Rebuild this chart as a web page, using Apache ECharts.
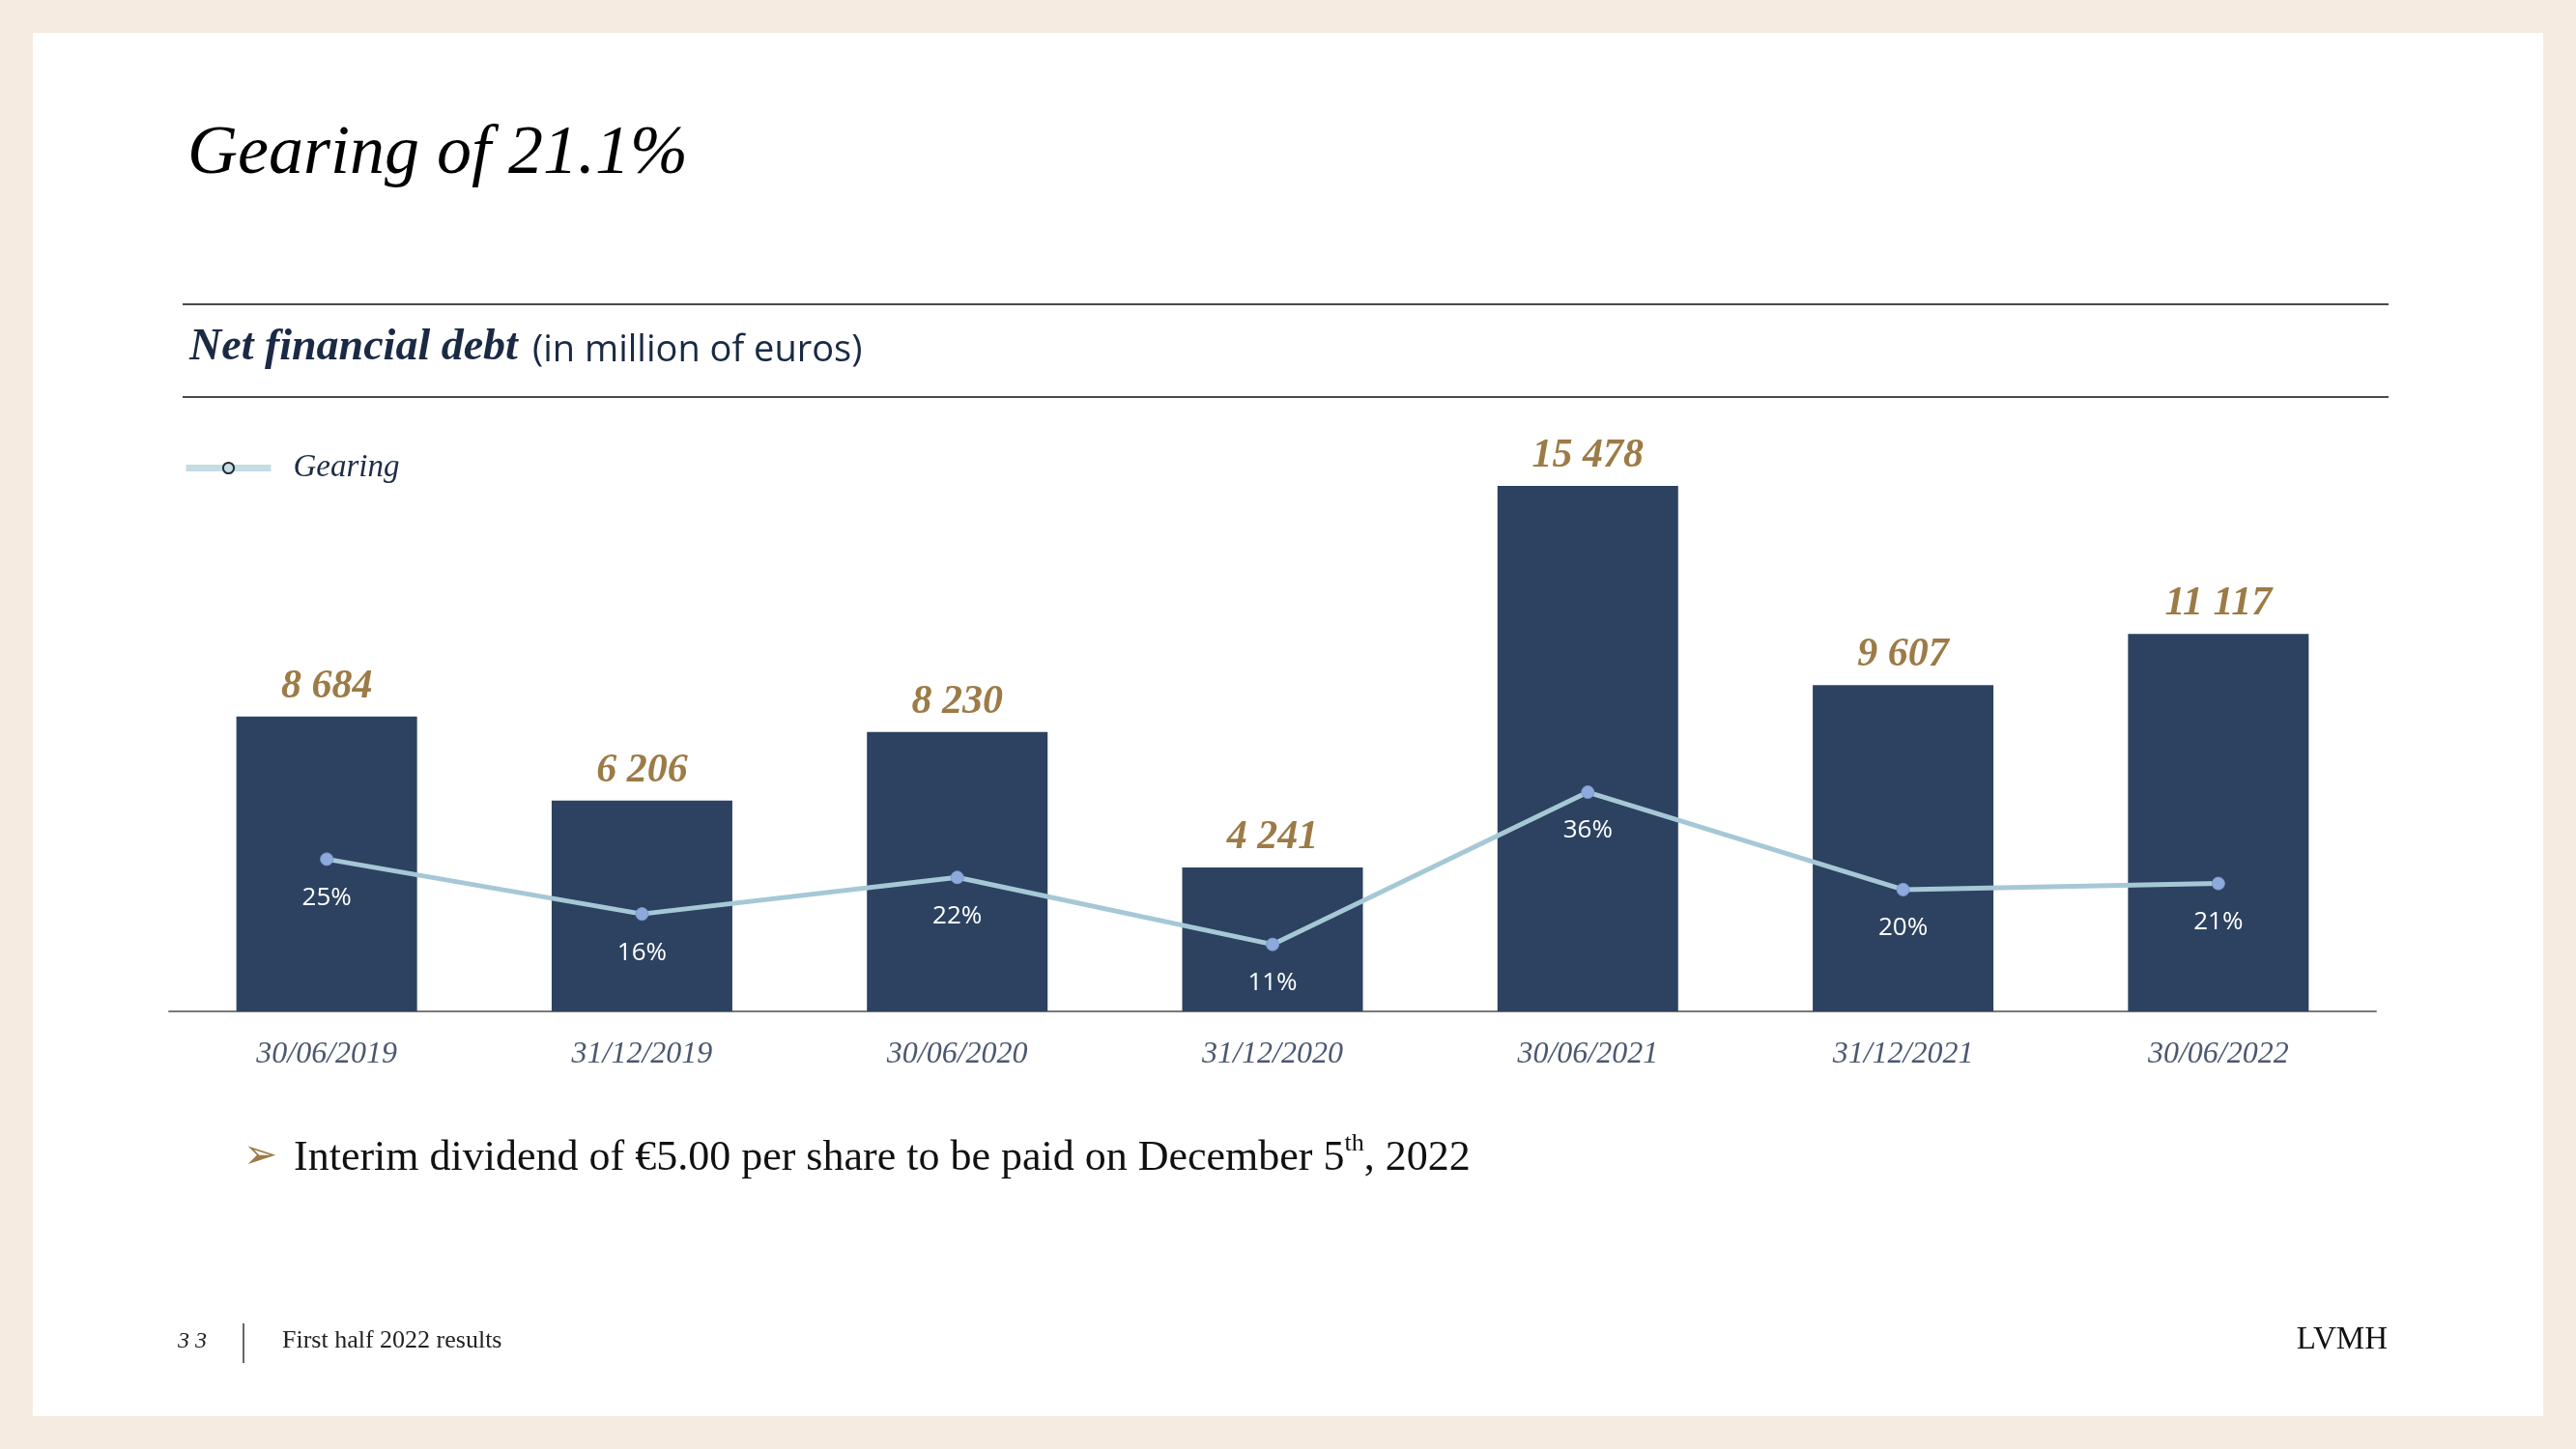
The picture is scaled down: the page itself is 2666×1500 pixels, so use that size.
<!DOCTYPE html>
<html>
<head>
<meta charset="utf-8">
<script src="https://cdn.jsdelivr.net/npm/echarts@6/dist/echarts.min.js"></script>
<style>
  html, body { margin: 0; padding: 0; width: 2666px; height: 1500px; background: #f6ebe0; overflow: hidden; }
  #panel { position: absolute; left: 34px; top: 34px; width: 2598px; height: 1432px; background: #ffffff; }
  #chart { position: absolute; left: 0; top: 0; width: 2666px; height: 1500px; }
</style>
</head>
<body>
<div id="panel"></div>
<div id="chart"></div>
<script>
const categories = ['30/06/2019', '31/12/2019', '30/06/2020', '31/12/2020', '30/06/2021', '31/12/2021', '30/06/2022'];
const netDebt = [8684, 6206, 8230, 4241, 15478, 9607, 11117];
const gearing = [25, 16, 22, 11, 36, 20, 21];

const titleText = 'Gearing of 21.1%';
const subtitleBold = 'Net financial debt';
const subtitleRest = '(in million of euros)';
const seriesName = 'Gearing';
const barName = 'Net financial debt';
const bulletArrow = '➢';
const bulletText = 'Interim dividend of €5.00 per share to be paid on December 5';
const bulletSup = 'th';
const bulletEnd = ', 2022';
const pageNum = '3 3';
const footerText = 'First half 2022 results';
const brand = 'LVMH';

const SERIF = '"Liberation Serif", "DejaVu Serif", serif';
const SANS = '"Open Sans", "Noto Sans", sans-serif';
const NAVY = '#2c4260';
const GOLD = '#9c7b47';

function fmtThousands(v) {
  return String(v).replace(/\B(?=(\d{3})+(?!\d))/g, ' ');
}

const chart = echarts.init(document.getElementById('chart'), null, { renderer: 'canvas' });

chart.setOption({
  backgroundColor: 'transparent',
  animation: false,
  grid: { left: 175, right: 207, top: 344, bottom: 453, containLabel: false },
  legend: {
    show: true,
    left: 184,
    top: 463,
    itemWidth: 88,
    itemHeight: 14,
    textStyle: { fontFamily: SERIF, fontStyle: 'italic', fontSize: 33, color: '#1f2d45', padding: [0, 0, 0, 18] },
    data: [{
      name: seriesName,
      itemStyle: { color: '#c9dde2', borderColor: '#1f2d3a', borderWidth: 2 },
      lineStyle: { color: '#c5dce3', width: 7 }
    }]
  },
  xAxis: {
    type: 'category',
    data: categories,
    axisLine: { show: true, lineStyle: { color: '#7a7a7a', width: 2 } },
    axisTick: { show: false },
    axisLabel: { fontFamily: SERIF, fontStyle: 'italic', fontSize: 32, color: '#4b5870', margin: 29 }
  },
  yAxis: [
    { type: 'value', min: 0, max: 20000, show: false, splitLine: { show: false } },
    { type: 'value', min: 0, max: 111.5, show: false, splitLine: { show: false } }
  ],
  series: [
    {
      name: barName,
      type: 'bar',
      data: netDebt,
      barWidth: 187,
      itemStyle: { color: NAVY },
      z: 2,
      label: {
        show: true,
        position: 'top',
        distance: 10,
        formatter: p => fmtThousands(p.value),
        fontFamily: SERIF,
        fontStyle: 'italic',
        fontWeight: 'bold',
        fontSize: 42,
        color: GOLD
      }
    },
    {
      name: seriesName,
      type: 'line',
      yAxisIndex: 1,
      data: gearing,
      z: 5,
      symbol: 'circle',
      symbolSize: 13,
      lineStyle: { color: '#a6c8d6', width: 5 },
      itemStyle: { color: '#8eaadc', borderColor: '#7d9bd0', borderWidth: 1 },
      label: {
        show: true,
        position: 'bottom',
        distance: 20,
        formatter: p => p.value + '%',
        fontFamily: SANS,
        fontSize: 26,
        color: '#ffffff'
      }
    }
  ],
  graphic: [
    { type: 'text', left: 194, top: 124, style: { text: titleText, font: 'italic 72px ' + SERIF, fill: '#000000' } },
    { type: 'line', shape: { x1: 189, y1: 315, x2: 2472, y2: 315 }, style: { stroke: '#4a4a4a', lineWidth: 2 } },
    { type: 'line', shape: { x1: 189, y1: 411, x2: 2472, y2: 411 }, style: { stroke: '#4a4a4a', lineWidth: 2 } },
    { type: 'text', left: 196, top: 337, style: { text: subtitleBold, font: 'italic bold 46px ' + SERIF, fill: '#1a2a44' } },
    { type: 'text', left: 551, top: 344, style: { text: subtitleRest, font: '38px ' + SANS, fill: '#1a2a44' } },
    { type: 'text', left: 252, top: 1177, style: { text: bulletArrow, font: '42px "DejaVu Sans", sans-serif', fill: GOLD } },
    {
      type: 'text', left: 304, top: 1171,
      style: {
        text: '{t|' + bulletText + '}{s|' + bulletSup + '}{t|' + bulletEnd + '}',
        rich: {
          t: { fontFamily: SERIF, fontSize: 44, fill: '#111111', height: 54, verticalAlign: 'bottom' },
          s: { fontFamily: SERIF, fontSize: 26, fill: '#111111', height: 54, verticalAlign: 'bottom', padding: [0, 0, 15, 0] }
        }
      }
    },
    { type: 'text', left: 184, top: 1377, style: { text: pageNum, font: 'italic 24px ' + SERIF, fill: '#222222' } },
    { type: 'line', shape: { x1: 252, y1: 1370, x2: 252, y2: 1411 }, style: { stroke: '#333333', lineWidth: 1.5 } },
    { type: 'text', left: 292, top: 1375, style: { text: footerText, font: '26px ' + SERIF, fill: '#222222' } },
    { type: 'text', right: 195, top: 1371, style: { text: brand, font: '33px ' + SERIF, fill: '#111111' } }
  ]
});
</script>
</body>
</html>
